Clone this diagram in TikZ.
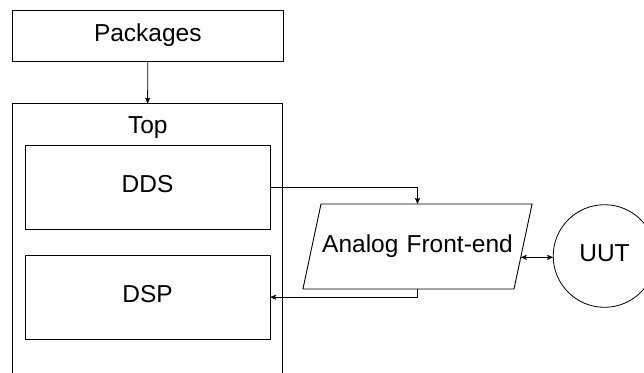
\documentclass[tikz,border=0pt]{standalone}
\usepackage{fontspec}
\setmainfont{Liberation Sans}
\usetikzlibrary{shapes.geometric,arrows.meta}
\begin{document}
\begin{tikzpicture}[x=1pt,y=-1pt,
  every node/.style={font=\fontsize{24.5}{28}\selectfont, inner sep=0pt, outer sep=0pt},
  box/.style={draw, line width=0.9pt, rectangle, text height=17pt, text depth=6pt},
  conn/.style={line width=0.9pt, -{Stealth[length=6pt,width=5pt,inset=1pt]}},
  bothconn/.style={line width=0.9pt, {Stealth[length=6pt,width=5pt,inset=1pt]}-{Stealth[length=6pt,width=5pt,inset=1pt]}}]
  \clip (0,0) rectangle (644,372);
  \fill[white] (0,0) rectangle (644,372);

  % software blocks
  \node[box, minimum width=270.3pt, minimum height=51pt] (pkg) at (147.8,35.5) {Packages};
  \node[box, anchor=north west, minimum width=270.3pt, minimum height=300pt] (top) at (12.5,103.7) {};
  \node[anchor=base] (toplbl) at (147.8,133.3) {Top};
  \node[box, minimum width=245pt, minimum height=84pt] (dds) at (147.5,187) {DDS};
  \node[box, minimum width=245pt, minimum height=84.3pt] (dsp) at (147.5,297.2) {DSP};

  % hardware side: parallelogram sized by its padding so the slant keeps its angle
  \node[box, trapezium, trapezium left angle=78, trapezium right angle=102,
        text width=193pt, align=center, inner xsep=0pt, inner ysep=31pt] (afe) at (417.5,246.5) {Analog Front-end};
  \node[draw, line width=0.8pt, circle, minimum size=102.6pt, text height=17pt, text depth=6pt] (uut) at (604.5,256) {UUT};

  % connections
  \draw[conn] (pkg.south) -- (top.north);
  \draw[conn] (dds.east) -| (afe.north);
  \draw[conn] (afe.south) |- (dsp.east);
  \draw[bothconn] (afe.-6.2) -- (afe.-6.2 -| uut.west);
\end{tikzpicture}
\end{document}
